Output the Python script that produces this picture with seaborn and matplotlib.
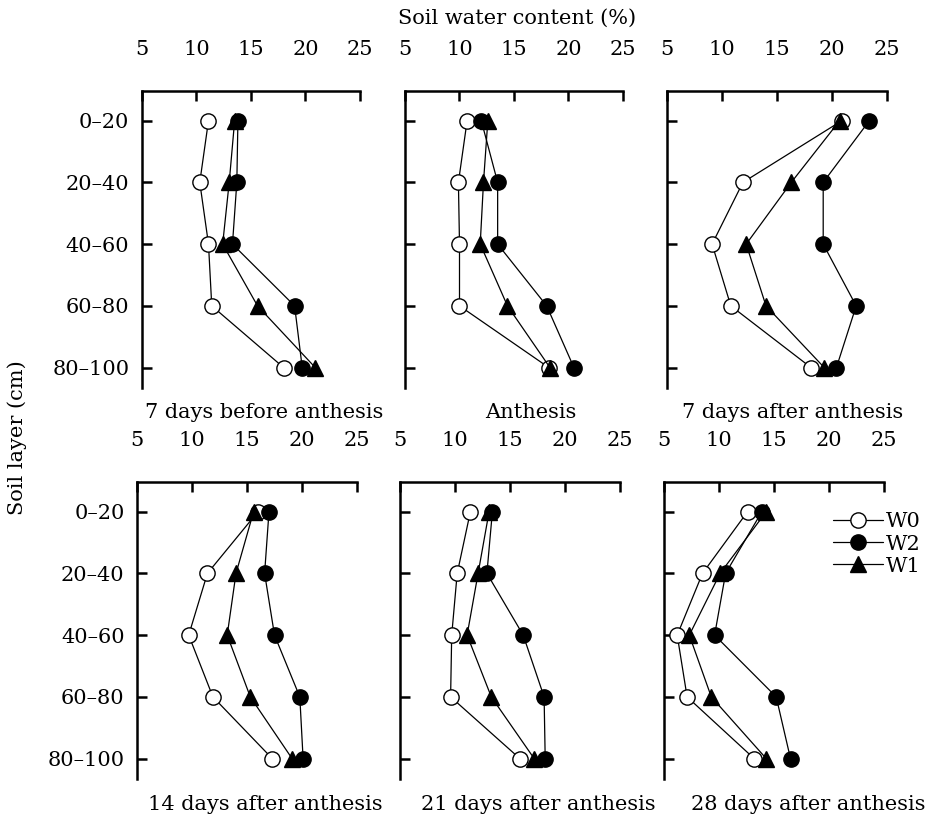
import numpy as np
import pandas as pd
import matplotlib
matplotlib.use("Agg")
import matplotlib.pyplot as plt
from matplotlib.lines import Line2D
import seaborn as sns

sns.set_style("ticks")
plt.rcParams['font.family'] = ['DejaVu Serif']
plt.rcParams.update({
    "xtick.direction": "in", "ytick.direction": "in",
    "axes.edgecolor": "black", "xtick.color": "black", "ytick.color": "black",
    "text.color": "black", "axes.labelcolor": "black",
})

layers = ["0\u201320", "20\u201340", "40\u201360", "60\u201380", "80\u2013100"]
stages = ["7 days before anthesis", "Anthesis", "7 days after anthesis",
          "14 days after anthesis", "21 days after anthesis", "28 days after anthesis"]
x_ticks = [5, 10, 15, 20, 25]

w0 = [
    [11.1, 10.3, 11.1, 11.4, 18.0],
    [10.7, 9.9, 10.0, 10.0, 18.2],
    [20.9, 11.9, 9.1, 10.8, 18.1],
    [16.0, 11.4, 9.7, 11.9, 17.3],
    [11.4, 10.2, 9.7, 9.6, 15.9],
    [12.6, 8.5, 6.2, 7.1, 13.2],
]
w2 = [
    [13.8, 13.7, 13.3, 19.0, 19.7],
    [12.0, 13.5, 13.5, 18.0, 20.5],
    [23.4, 19.2, 19.2, 22.2, 20.4],
    [17.0, 16.6, 17.5, 19.8, 20.1],
    [13.4, 12.9, 16.2, 18.1, 18.2],
    [13.9, 10.6, 9.6, 15.2, 16.5],
]
w1 = [
    [13.5, 13.0, 12.4, 15.6, 20.9],
    [12.6, 12.2, 11.9, 14.4, 18.3],
    [20.7, 16.3, 12.2, 14.0, 19.3],
    [15.6, 14.0, 13.2, 15.3, 19.1],
    [13.1, 12.1, 11.1, 13.3, 17.2],
    [14.3, 10.1, 7.3, 9.3, 14.3],
]

W, H = 928, 832
fig = plt.figure(figsize=(W / 100, H / 100), dpi=100)

# panel pixel boxes: left, right(x=25), top
boxes = [(142, 360, 91), (405, 623, 91), (667, 887, 91),
         (137, 357, 482), (400, 620, 482), (664, 884, 482)]
ph = 297

styles = {
    "W0": dict(marker="o", markerfacecolor="white", markeredgecolor="black"),
    "W1": dict(marker="^", markerfacecolor="black", markeredgecolor="black"),
    "W2": dict(marker="o", markerfacecolor="black", markeredgecolor="black"),
}
series = {"W0": w0, "W1": w1, "W2": w2}
pos = np.arange(len(layers))

axes = []
for i, (l, r, t) in enumerate(boxes):
    ax = fig.add_axes([l / W, 1 - (t + ph) / H, (r - l) / W, ph / H])
    axes.append(ax)
    for name in ["W0", "W1", "W2"]:
        df = pd.DataFrame({"swc": series[name][i], "pos": pos})
        sns.lineplot(data=df, x="swc", y="pos", orient="y", sort=False,
                     estimator=None, ax=ax, color="black", linewidth=0.9,
                     markersize=11, markeredgewidth=1.0, zorder=3, **styles[name])
    ax.set_xlim(5, 25)
    ax.set_ylim(4.33, -0.48)
    ax.set_xticks(x_ticks)
    ax.set_xticklabels([str(v) for v in x_ticks])
    ax.set_yticks(pos)
    if i % 3 == 0:
        ax.set_yticklabels(layers)
    else:
        ax.set_yticklabels([])
    ax.xaxis.tick_top()
    ax.set_xlabel("")
    ax.set_ylabel("")
    for s in ["right", "bottom"]:
        ax.spines[s].set_visible(False)
    for s in ["left", "top"]:
        ax.spines[s].set_linewidth(1.8)
        ax.spines[s].set_color("black")
    ax.tick_params(axis="x", which="both", direction="in", length=7, width=1.8, pad=23,
                   labelsize=15, top=True, bottom=False, colors="black")
    ax.tick_params(axis="y", which="both", direction="in", length=7, width=1.8, pad=9,
                   labelsize=15, left=True, right=False, colors="black")
    ax.patch.set_alpha(0)

title_pos = [(264, 412), (531, 412), (793, 412), (265, 805), (538, 805), (808, 805)]
for (tx, ty), s in zip(title_pos, stages):
    fig.text(tx / W, 1 - ty / H, s, ha="center", va="center", fontsize=15)

fig.text(517 / W, 1 - 18 / H, "Soil water content (%)", ha="center", va="center", fontsize=15)
fig.text(17 / W, 1 - 438 / H, "Soil layer (cm)", ha="center", va="center",
         rotation=90, fontsize=15)

handles = []
for name in ["W0", "W2", "W1"]:
    handles.append(Line2D([], [], color="black", linewidth=0.9, markersize=11,
                          markeredgewidth=1.0, **styles[name]))
fig.legend(handles, ["W0", "W2", "W1"], loc="center left",
           bbox_to_anchor=(833 / W, 1 - 544 / H), frameon=False,
           fontsize=15, handlelength=2.4, handletextpad=0.15,
           labelspacing=0.15, borderpad=0, borderaxespad=0)

fig.savefig("out.png", dpi=100)
